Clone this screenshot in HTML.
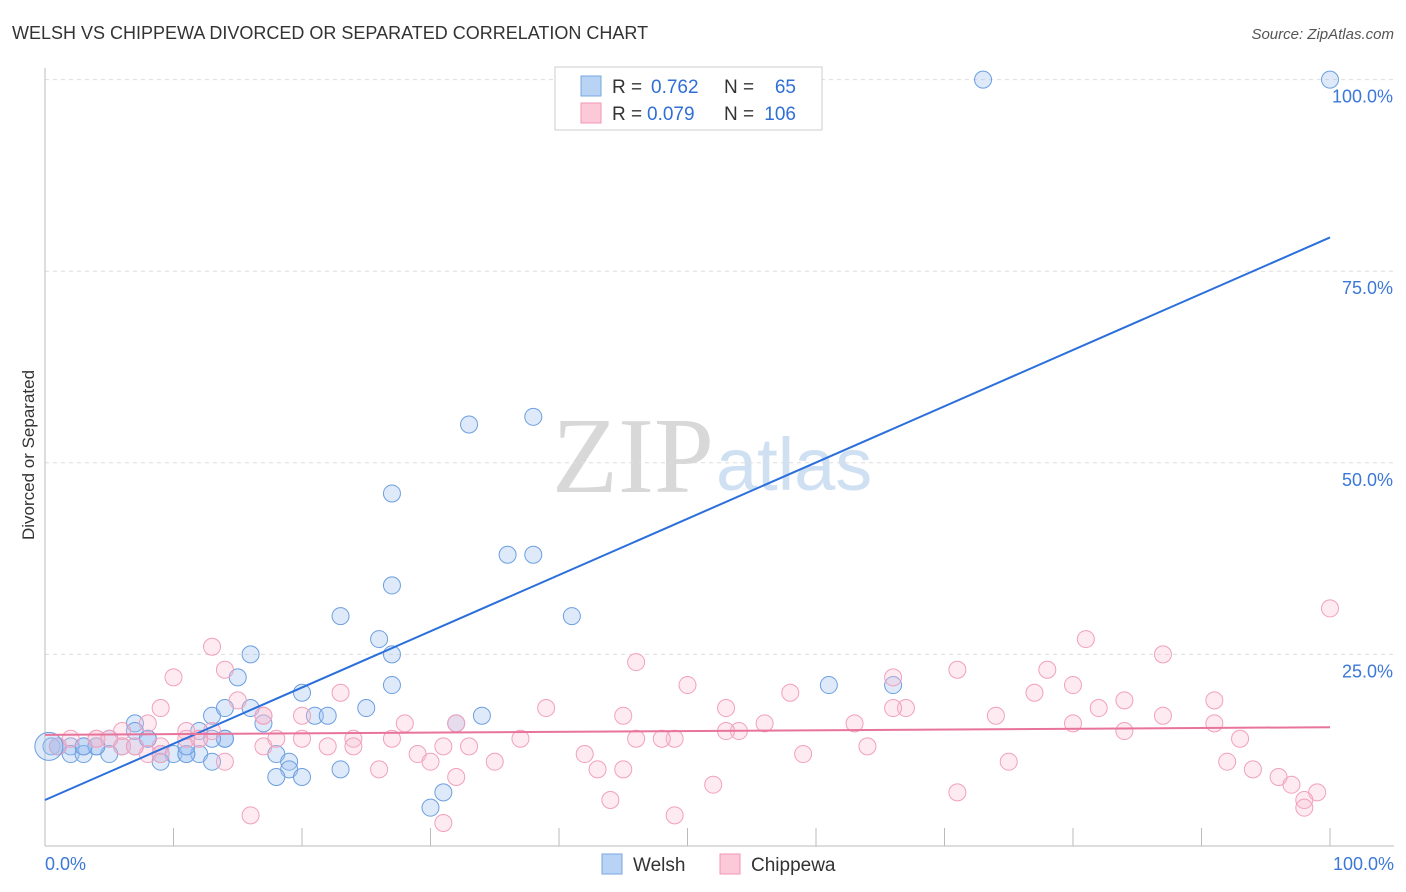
<!DOCTYPE html>
<html><head><meta charset="utf-8">
<style>
body{margin:0;background:#fff;font-family:"Liberation Sans",sans-serif;}
#c{position:relative;width:1406px;height:892px;overflow:hidden}
</style></head>
<body>
<div id="c">
<svg id="s" width="1406" height="892" xmlns="http://www.w3.org/2000/svg">
<text x="12" y="39" font-size="18" fill="#333">WELSH VS CHIPPEWA DIVORCED OR SEPARATED CORRELATION CHART</text>
<text x="1394" y="39" font-size="15" fill="#555" text-anchor="end" font-style="italic">Source: ZipAtlas.com</text>
<text x="34" y="455" font-size="17" fill="#333" text-anchor="middle" transform="rotate(-90 34 455)">Divorced or Separated</text>
<text x="552" y="492" font-size="108" fill="#d8d8d8" font-family="Liberation Serif,serif">ZIP</text>
<text x="716" y="490" font-size="74" fill="#cfe0f3">atlas</text>
<g id="grid"></g><g id="pts"></g><g id="lines"></g>
<rect x="555" y="67" width="267" height="63" fill="#fff" stroke="#ccc"/>
<rect x="581" y="76" width="20" height="20" fill="#b8d3f4" stroke="#7aa7e0"/>
<rect x="581" y="103" width="20" height="20" fill="#fbc9d8" stroke="#f096b4"/>
<g font-size="19" fill="#333">
<text x="612" y="93">R =</text><text x="651" y="93" fill="#2f6fd6">0.762</text>
<text x="724" y="93">N =</text><text x="796" y="93" fill="#2f6fd6" text-anchor="end">65</text></g>
<g font-size="19" fill="#333">
<text x="612" y="120">R =</text><text x="647" y="120" fill="#2f6fd6">0.079</text>
<text x="724" y="120">N =</text><text x="796" y="120" fill="#2f6fd6" text-anchor="end">106</text></g>
<rect x="602" y="854" width="20" height="20" fill="#b8d3f4" stroke="#7aa7e0"/>
<text x="633" y="871" font-size="19" fill="#333">Welsh</text>
<rect x="720" y="854" width="20" height="20" fill="#fbc9d8" stroke="#f096b4"/>
<text x="751" y="871" font-size="19" fill="#333">Chippewa</text>
<text x="45" y="870" font-size="18" fill="#3b78d8">0.0%</text>
<text x="1394" y="870" font-size="18" fill="#3b78d8" text-anchor="end">100.0%</text>
</svg>
</div>
<script>
const yTicks=[25,50,75,100];
const yTickLabels=["25.0%","50.0%","75.0%","100.0%"];
const welshX=[73,100,33,38,27,36,38,27,41,23,26,27,16,15,27,20,61,66,25,21,22,34,32,13,14,16,17,7,7,8,12,14,14,5,4,3,2,1,0.5,2,3,6,7,9,10,11,12,9,11,5,13,18,19,19,18,20,23,30,31,11,13,8,4,3,1];
const welshY=[100,100,55,56,46,38,38,34,30,30,27,25,25,22,21,20,21,21,18,17,17,17,16,17,18,18,16,16,15,14,15,14,14,14,13,13,13,13,13,12,12,13,13,12,12,12,12,11,12,12,11,12,11,10,9,9,10,5,7,13,14,14,13,13,13];
const chipX=[100,81,13,46,87,14,10,78,50,71,66,80,77,58,84,91,9,8,15,53,67,66,39,23,20,82,87,74,80,45,63,11,12,13,17,17,28,32,56,54,91,84,49,48,46,53,64,93,37,27,33,20,18,24,22,24,4,4,6,6,9,12,8,31,9,14,29,30,42,59,35,26,32,43,45,92,75,94,96,52,97,99,71,98,44,98,49,16,31,1,2,5,7,11,17];
const chipY=[31,27,26,24,25,23,22,23,21,23,22,21,20,20,19,19,18,16,19,18,18,18,18,20,17,18,17,17,16,17,16,15,14,15,17,17,16,16,16,15,16,15,14,14,14,15,13,14,14,14,13,14,14,14,13,13,14,14,15,13,13,14,12,13,12,11,12,11,12,12,11,10,9,10,10,11,11,10,9,8,8,7,7,6,6,5,4,4,3,13,14,14,13,14,13];
const welshLine=[6.0,79.4];
const chipLine=[14.5,15.5];
const ns="http://www.w3.org/2000/svg";
const X=v=>45+v*12.85, Y=v=>846-v*7.664;
function mk(t,a,p){const e=document.createElementNS(ns,t);for(const k in a)e.setAttribute(k,a[k]);p.appendChild(e);return e;}
const grid=document.getElementById('grid');
yTicks.forEach((t,i)=>{
 const l=mk('line',{x1:45,x2:1394,y1:Y(t),y2:Y(t),stroke:'#ddd','stroke-dasharray':'4 4'},grid);
 
 
 const tx=mk('text',{x:1393,y:Y(t)+23,'font-size':18,fill:'#3b78d8','text-anchor':'end'},grid);
 tx.textContent=yTickLabels[i];
 
 
});
const ax=mk('line',{x1:45,x2:45,y1:68,y2:846,stroke:'#bbb'},grid);


const bx=mk('line',{x1:45,x2:1394,y1:846,y2:846,stroke:'#bbb'},grid);


for(let i=1;i<=10;i++){
 const t=mk('line',{x1:X(i*10),x2:X(i*10),y1:828,y2:846,stroke:'#bbb'},grid);
 
 
}
const pts=document.getElementById('pts');
welshX.forEach((x,i)=>{
 const c=mk('circle',{cx:X(x),cy:Y(welshY[i]),r:8.5,fill:'rgba(160,196,240,0.35)',stroke:'#6c9fe0','stroke-width':1},pts);
 
 
});
chipX.forEach((x,i)=>{
 const c=mk('circle',{cx:X(x),cy:Y(chipY[i]),r:8.5,fill:'rgba(250,190,210,0.3)',stroke:'#f2a0bc','stroke-width':1},pts);
 
 
});
const big=mk('circle',{cx:X(0.3),cy:Y(13),r:14,fill:'rgba(160,196,240,0.35)',stroke:'#6c9fe0'},pts);


const lines=document.getElementById('lines');
const wl=mk('line',{x1:X(0),x2:X(100),y1:Y(welshLine[0]),y2:Y(welshLine[1]),stroke:'#2a6fdb','stroke-width':2},lines);


const cl=mk('line',{x1:X(0),x2:X(100),y1:Y(chipLine[0]),y2:Y(chipLine[1]),stroke:'#e8739c','stroke-width':2},lines);


</script>
</body></html>
